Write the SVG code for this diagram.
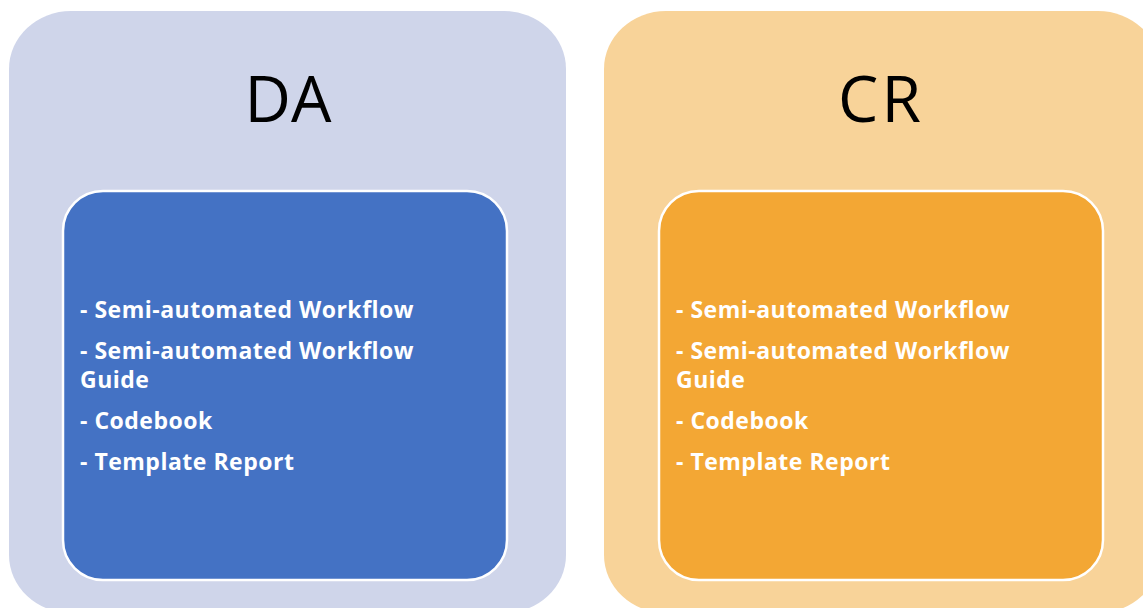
<svg xmlns="http://www.w3.org/2000/svg" width="1143" height="608" viewBox="0 0 1143 608">
<style>
.title{font-family:"Open Sans","Noto Sans",sans-serif;font-size:64px;fill:#000;text-anchor:middle}
.item{font-family:"Open Sans","Noto Sans",sans-serif;font-size:23px;font-weight:bold;fill:#fff;letter-spacing:0.5px}
.inner{stroke:#fff;stroke-width:2.5}
</style>
<rect width="1143" height="608" fill="#fff"/>
<g id="da">
<rect x="9" y="11" width="557" height="602" rx="62" ry="58" fill="#CFD5EA"/>
<text class="title" x="288" y="122">DA</text>
<rect class="inner" x="63" y="191" width="444" height="389" rx="40" ry="40" fill="#4472C4"/>
<text class="item" x="80" y="318">- Semi-automated Workflow</text>
<text class="item" x="80" y="359">- Semi-automated Workflow</text>
<text class="item" x="80" y="388">Guide</text>
<text class="item" x="80" y="429">- Codebook</text>
<text class="item" x="80" y="470">- Template Report</text>
</g>
<g id="cr">
<rect x="604" y="11" width="556" height="602" rx="62" ry="58" fill="#F8D399"/>
<text class="title" x="881" y="122" letter-spacing="3">CR</text>
<rect class="inner" x="659" y="191" width="444" height="389" rx="40" ry="40" fill="#F3A734"/>
<text class="item" x="676" y="318">- Semi-automated Workflow</text>
<text class="item" x="676" y="359">- Semi-automated Workflow</text>
<text class="item" x="676" y="388">Guide</text>
<text class="item" x="676" y="429">- Codebook</text>
<text class="item" x="676" y="470">- Template Report</text>
</g>
<g id="connectors"/>
</svg>
